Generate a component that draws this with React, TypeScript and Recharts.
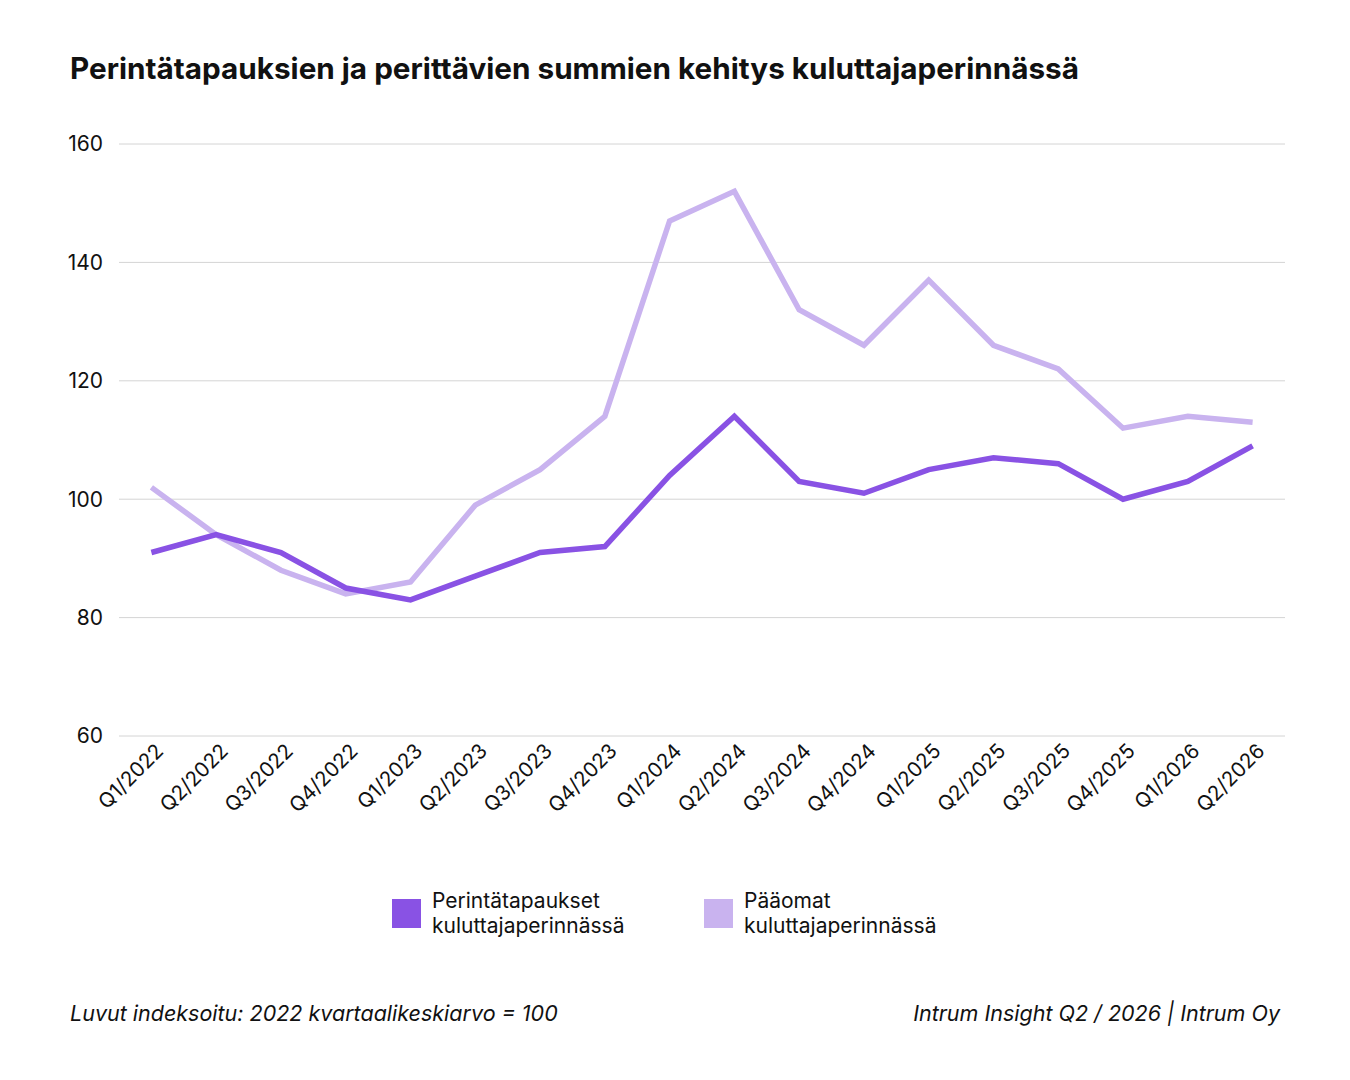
import * as React from 'react';
import { LineChart, Line, XAxis, YAxis, CartesianGrid } from 'recharts';

const quarters = [
    'Q1/2022', 'Q2/2022', 'Q3/2022', 'Q4/2022',
    'Q1/2023', 'Q2/2023', 'Q3/2023', 'Q4/2023',
    'Q1/2024', 'Q2/2024', 'Q3/2024', 'Q4/2024',
    'Q1/2025', 'Q2/2025', 'Q3/2025', 'Q4/2025',
    'Q1/2026', 'Q2/2026',
];
const perintatapaukset = [91, 94, 91, 85, 83, 87, 91, 92, 104, 114, 103, 101, 105, 107, 106, 100, 103, 109];
const paaomat = [102, 94, 88, 84, 86, 99, 105, 114, 147, 152, 132, 126, 137, 126, 122, 112, 114, 113];
const yTicks = [60, 80, 100, 120, 140, 160];

const series = [
    { key: 'perintatapaukset', label: ['Perintätapaukset', 'kuluttajaperinnässä'], color: '#8952e4' },
    { key: 'paaomat', label: ['Pääomat', 'kuluttajaperinnässä'], color: '#c9b3ef' },
];

const FONT = 'Inter, "Noto Sans", sans-serif';

const data = quarters.map((q, i) => ({
    quarter: q,
    perintatapaukset: perintatapaukset[i],
    paaomat: paaomat[i],
}));

const App: React.FC = () => {
    return (
        <div style={{ position: 'absolute', left: 0, top: 0, width: 1350, height: 1080, background: '#fff', fontFamily: FONT, color: '#111' }}>
            <div style={{ position: 'absolute', left: 70, top: 50, fontSize: 29.7, fontWeight: 700 }}>
                Perintätapauksien ja perittävien summien kehitys kuluttajaperinnässä
            </div>

            <div style={{ position: 'absolute', left: 0, top: 0 }}>
                <LineChart width={1350} height={850} data={data} margin={{ top: 144, right: 65, left: 49, bottom: 14 }}>
                    <CartesianGrid vertical={false} stroke="#d4d4d4" strokeWidth={1} />
                    <XAxis
                        dataKey="quarter"
                        scale="band"
                        interval={0}
                        axisLine={false}
                        tickLine={false}
                        height={100}
                        tick={{ fontSize: 20.5, fill: '#111', fontFamily: FONT }}
                        angle={-45}
                        textAnchor="end"
                        dx={3}
                        dy={-2}
                    />
                    <YAxis
                        domain={[60, 160]}
                        ticks={yTicks}
                        interval={0}
                        axisLine={false}
                        tickLine={false}
                        width={70}
                        tickMargin={10}
                        tick={{ fontSize: 21, fill: '#111', fontFamily: FONT }}
                    />
                    <Line type="linear" dataKey="paaomat" stroke="#c9b3ef" strokeWidth={5.5} dot={false} isAnimationActive={false} />
                    <Line type="linear" dataKey="perintatapaukset" stroke="#8952e4" strokeWidth={5.5} dot={false} isAnimationActive={false} />
                </LineChart>
            </div>

            {series.map((s, i) => (
                <div key={s.key} style={{ position: 'absolute', left: 392 + i * 312, top: 888, display: 'flex', alignItems: 'center' }}>
                    <div style={{ width: 29, height: 29, background: s.color, marginRight: 11 }} />
                    <div style={{ fontSize: 21, lineHeight: '25px' }}>
                        {s.label[0]}<br />{s.label[1]}
                    </div>
                </div>
            ))}

            <div style={{ position: 'absolute', left: 70, top: 1000, fontSize: 21.5, fontStyle: 'italic' }}>
                Luvut indeksoitu: 2022 kvartaalikeskiarvo = 100
            </div>
            <div style={{ position: 'absolute', right: 70, top: 1000, fontSize: 21.5, fontStyle: 'italic' }}>
                Intrum Insight Q2 / 2026 | Intrum Oy
            </div>
        </div>
    );
};

export default App;
